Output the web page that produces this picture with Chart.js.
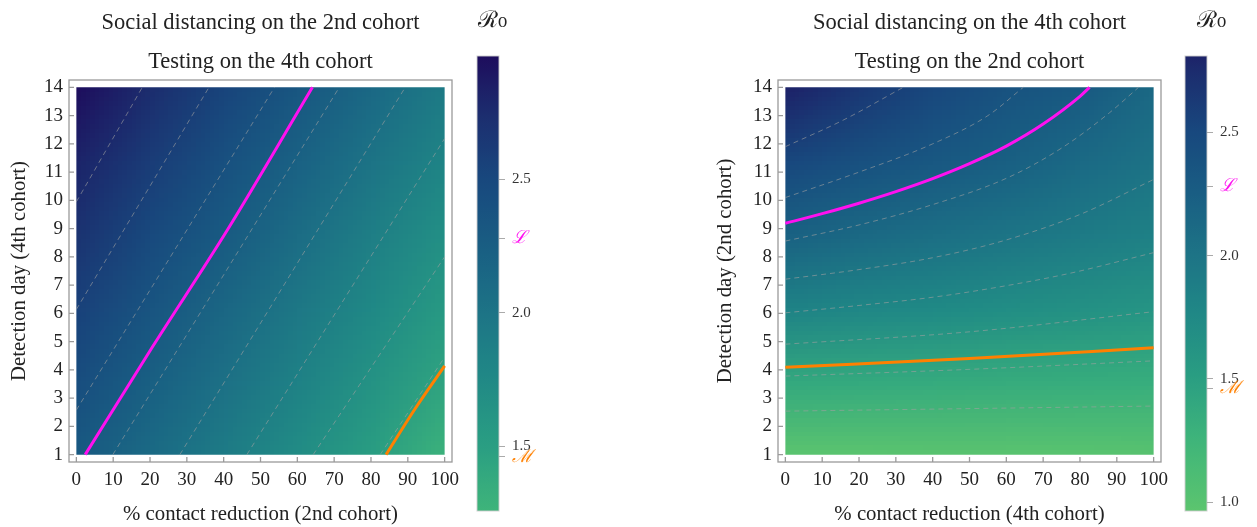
<!DOCTYPE html>
<html>
<head>
<meta charset="utf-8">
<script src="https://cdn.jsdelivr.net/npm/chart.js@4.4.1/dist/chart.umd.min.js"></script>
<style>
  body { margin: 0; background: #fff; }
  #wrap { position: relative; width: 1257px; height: 527px; overflow: hidden; }
  canvas { position: absolute; top: 0; }
</style>
</head>
<body>
<div id="wrap">
  <canvas id="leftPanel" width="470" height="527" style="left:0"></canvas>
  <canvas id="leftBar" width="110" height="527" style="left:440px"></canvas>
  <canvas id="rightPanel" width="480" height="527" style="left:700px"></canvas>
  <canvas id="rightBar" width="107" height="527" style="left:1150px"></canvas>
</div>
<script>
// axes
const xTicks = [0, 10, 20, 30, 40, 50, 60, 70, 80, 90, 100];
const yTicks = [1, 2, 3, 4, 5, 6, 7, 8, 9, 10, 11, 12, 13, 14];

// R0 read at grid points (rows follow gridY, bottom to top)
const gridX = [0, 20, 40, 60, 80, 100];
const gridY = [1, 3.6, 6.2, 8.8, 11.4, 14];
const leftR0 = [
  [2.30, 2.10, 1.90, 1.70, 1.50, 1.27],
  [2.43, 2.23, 2.03, 1.83, 1.63, 1.43],
  [2.55, 2.35, 2.15, 1.95, 1.75, 1.55],
  [2.68, 2.48, 2.28, 2.08, 1.87, 1.67],
  [2.80, 2.60, 2.40, 2.20, 2.00, 1.80],
  [2.95, 2.73, 2.53, 2.33, 2.12, 1.92]
];
const rightR0 = [
  [0.96, 0.965, 0.97, 0.975, 0.98, 0.99],
  [1.38, 1.37, 1.36, 1.35, 1.34, 1.33],
  [1.82, 1.77, 1.74, 1.69, 1.65, 1.61],
  [2.21, 2.13, 2.06, 1.99, 1.92, 1.84],
  [2.50, 2.40, 2.32, 2.23, 2.11, 2.01],
  [2.81, 2.64, 2.50, 2.38, 2.30, 2.13]
];

// threshold curves and level lines, [x, y] points
const leftL = [[2.4, 1], [20.6, 4.8], [41, 8.95], [64.1, 14]];
const leftM = [[84.1, 1], [91.8, 2.59], [100, 4.14]];
const leftContours = [
  [[0, 9.95], [17.9, 14]],
  [[0, 6.14], [36, 14]],
  [[0, 2.58], [53.8, 14]],
  [[9.9, 1], [71.4, 14]],
  [[28.1, 1], [89.3, 14]],
  [[46.3, 1], [100, 12.19]],
  [[64.3, 1], [100, 8.0]],
  [[82.5, 1], [100, 4.45]]
];
const rightL = [[0, 9.19], [10, 9.53], [20, 9.9], [30, 10.31], [40, 10.77], [50, 11.3],
                [60, 11.92], [70, 12.7], [80, 13.68], [82.6, 14]];
const rightM = [[0, 4.09], [50, 4.4], [100, 4.78]];
const rightContours = [
  [[0, 11.9], [15.7, 12.84], [32, 14]],
  [[0, 10.1], [20, 11.0], [40, 12.0], [55, 13.0], [64.6, 14]],
  [[0, 8.56], [20, 9.13], [40, 9.85], [60, 10.78], [75, 11.85], [88, 13.1], [95.9, 14]],
  [[0, 7.21], [20, 7.55], [40, 7.97], [60, 8.6], [80, 9.5], [100, 10.74]],
  [[0, 6.02], [20, 6.28], [41.1, 6.59], [60, 6.98], [77.3, 7.42], [100, 8.15]],
  [[0, 4.91], [50.2, 5.35], [100, 6.06]],
  [[0, 3.78], [50.2, 4.02], [100, 4.32]],
  [[0, 2.54], [100, 2.72]]
];

// colour bars
const levelL = 2.28;
const levelM = 1.46;
const leftBarRange = [1.257, 2.963];
const rightBarRange = [0.964, 2.81];
const leftBarTicks = [1.5, 2.0, 2.5];
const rightBarTicks = [1.0, 1.5, 2.0, 2.5];

// colour map (style)
const cmap = [
  [0.96, [92, 197, 110]],
  [1.25, [63, 181, 122]],
  [1.5, [42, 158, 130]],
  [1.75, [32, 137, 134]],
  [2.0, [29, 116, 134]],
  [2.25, [25, 94, 131]],
  [2.5, [24, 72, 126]],
  [2.75, [28, 44, 110]],
  [2.97, [30, 12, 92]]
];
const SERIF = '"Liberation Serif", "DejaVu Serif", serif';
const INK = '#222';
const PINK = '#ff10f0';
const ORANGE = '#ff8000';

function colorAt(v) {
  if (v <= cmap[0][0]) return cmap[0][1];
  for (let i = 1; i < cmap.length; i++) {
    if (v <= cmap[i][0]) {
      const [v0, c0] = cmap[i - 1], [v1, c1] = cmap[i];
      const f = (v - v0) / (v1 - v0);
      return c0.map((c, k) => Math.round(c + (c1[k] - c) * f));
    }
  }
  return cmap[cmap.length - 1][1];
}
const rgb = c => `rgb(${c[0]},${c[1]},${c[2]})`;

const heatPlugin = {
  id: 'heat',
  beforeDatasetsDraw(chart, args, opts) {
    const grid = opts.values;
    const xs = chart.scales.x, ys = chart.scales.y;
    const nx = gridX.length, ny = gridY.length;
    const off = document.createElement('canvas');
    off.width = nx; off.height = ny;
    const octx = off.getContext('2d');
    const img = octx.createImageData(nx, ny);
    for (let j = 0; j < ny; j++) {
      for (let i = 0; i < nx; i++) {
        const c = colorAt(grid[j][i]);
        const k = ((ny - 1 - j) * nx + i) * 4;
        img.data[k] = c[0]; img.data[k + 1] = c[1]; img.data[k + 2] = c[2]; img.data[k + 3] = 255;
      }
    }
    octx.putImageData(img, 0, 0);
    const dx = (gridX[nx - 1] - gridX[0]) / (nx - 1);
    const dy = (gridY[ny - 1] - gridY[0]) / (ny - 1);
    const x0 = xs.getPixelForValue(gridX[0] - dx / 2), x1 = xs.getPixelForValue(gridX[nx - 1] + dx / 2);
    const y0 = ys.getPixelForValue(gridY[ny - 1] + dy / 2), y1 = ys.getPixelForValue(gridY[0] - dy / 2);
    const cx0 = xs.getPixelForValue(gridX[0]), cx1 = xs.getPixelForValue(gridX[nx - 1]);
    const cy0 = ys.getPixelForValue(gridY[ny - 1]), cy1 = ys.getPixelForValue(gridY[0]);
    const ctx = chart.ctx;
    ctx.save();
    ctx.beginPath();
    ctx.rect(cx0, cy0, cx1 - cx0, cy1 - cy0);
    ctx.clip();
    ctx.imageSmoothingEnabled = true;
    ctx.drawImage(off, x0, y0, x1 - x0, y1 - y0);
    ctx.restore();
  }
};

const framePlugin = {
  id: 'frame',
  afterDraw(chart) {
    const { ctx, chartArea: a, scales: { x, y } } = chart;
    ctx.save();
    ctx.strokeStyle = '#9a9a9a';
    ctx.lineWidth = 1.3;
    ctx.strokeRect(a.left, a.top, a.right - a.left, a.bottom - a.top);
    ctx.beginPath();
    x.ticks.forEach(t => {
      const p = x.getPixelForValue(t.value);
      ctx.moveTo(p, a.bottom); ctx.lineTo(p, a.bottom - 5);
    });
    y.ticks.forEach(t => {
      const p = y.getPixelForValue(t.value);
      ctx.moveTo(a.left, p); ctx.lineTo(a.left + 5, p);
    });
    ctx.stroke();
    ctx.restore();
  }
};

const cbarPlugin = {
  id: 'cbar',
  beforeDraw(chart, args, opts) {
    const { ctx, chartArea: a, scales: { y } } = chart;
    const top = y.getPixelForValue(y.max), bot = y.getPixelForValue(y.min);
    const g = ctx.createLinearGradient(0, bot, 0, top);
    for (let k = 0; k <= 30; k++) {
      const f = k / 30;
      g.addColorStop(f, rgb(colorAt(y.min + (y.max - y.min) * f)));
    }
    ctx.save();
    ctx.fillStyle = g;
    ctx.fillRect(a.left, top, a.right - a.left, bot - top);
    ctx.strokeStyle = 'rgba(205,205,205,0.9)';
    ctx.lineWidth = 1;
    ctx.strokeRect(a.left, top, a.right - a.left, bot - top);
    ctx.fillStyle = INK;
    ctx.font = '23px "DejaVu Serif", serif';
    ctx.textBaseline = 'middle';
    ctx.textAlign = 'left';
    ctx.fillText('ℛ₀', a.left + opts.labelDx, 21);
    ctx.restore();
  }
};

function toPoints(arr) {
  return arr.map(p => ({ x: p[0], y: p[1] }));
}

function makePanel(id, cfg) {
  const datasets = cfg.contours.map(c => ({
    data: toPoints(c), showLine: true, borderColor: 'rgba(160,160,160,0.6)',
    borderWidth: 1, borderDash: [5, 4], pointRadius: 0, cubicInterpolationMode: 'monotone'
  }));
  datasets.push({ data: toPoints(cfg.L), showLine: true, borderColor: PINK, borderWidth: 3, pointRadius: 0, cubicInterpolationMode: 'monotone' });
  datasets.push({ data: toPoints(cfg.M), showLine: true, borderColor: ORANGE, borderWidth: 3, pointRadius: 0, cubicInterpolationMode: 'monotone' });

  new Chart(document.getElementById(id), {
    type: 'scatter',
    data: { datasets },
    options: {
      responsive: false,
      animation: false,
      events: [],
      layout: { padding: { left: 0, right: cfg.padRight, top: 0, bottom: 0 } },
      plugins: {
        legend: { display: false },
        tooltip: { enabled: false },
        title: {
          display: true, text: cfg.title1, fullSize: false, color: INK,
          font: { family: SERIF, size: 22.5, weight: 'normal', lineHeight: 1.2 },
          padding: { top: 10, bottom: 12 }
        },
        subtitle: {
          display: true, text: cfg.title2, fullSize: false, color: INK,
          font: { family: SERIF, size: 22.5, weight: 'normal', lineHeight: 1.2 },
          padding: { top: 0, bottom: 4 }
        },
        heat: { values: cfg.values }
      },
      scales: {
        x: {
          type: 'linear', min: -2, max: 102,
          afterBuildTicks: s => { s.ticks = xTicks.map(v => ({ value: v })); },
          afterFit: s => { s.height = 65; },
          grid: { display: false, drawTicks: false },
          border: { display: false },
          ticks: { autoSkip: false, maxRotation: 0, padding: 7, color: INK, font: { family: SERIF, size: 19 } },
          title: { display: true, text: cfg.xTitle, color: INK, font: { family: SERIF, size: 20.8 }, padding: { top: 0, bottom: 0 } }
        },
        y: {
          type: 'linear', min: 0.74, max: 14.26,
          afterBuildTicks: s => { s.ticks = yTicks.map(v => ({ value: v })); },
          afterFit: s => { s.width = cfg.yWidth; },
          grid: { display: false, drawTicks: false },
          border: { display: false },
          ticks: { autoSkip: false, padding: 6, color: INK, font: { family: SERIF, size: 19 } },
          title: { display: true, text: cfg.yTitle, color: INK, font: { family: SERIF, size: 20.8 }, padding: { top: cfg.yTitlePad, bottom: 0 } }
        }
      }
    },
    plugins: [heatPlugin, framePlugin]
  });
}

function makeBar(id, cfg) {
  new Chart(document.getElementById(id), {
    type: 'scatter',
    data: { datasets: [] },
    options: {
      responsive: false,
      animation: false,
      events: [],
      layout: { padding: { left: cfg.padLeft, right: 0, top: 56, bottom: 14 } },
      plugins: {
        legend: { display: false },
        tooltip: { enabled: false },
        cbar: { labelDx: cfg.labelDx }
      },
      scales: {
        x: { display: false },
        y: {
          type: 'linear', position: 'right', min: cfg.range[0], max: cfg.range[1],
          afterBuildTicks: s => { s.ticks = cfg.ticks.concat([levelL, levelM]).map(v => ({ value: v })); },
          afterFit: s => { s.width = cfg.axisWidth; },
          grid: { drawOnChartArea: false, drawTicks: true, tickLength: 6, color: '#aaa' },
          border: { display: false },
          ticks: {
            autoSkip: false,
            padding: 7,
            callback: v => v === levelL ? 'ℒ' : v === levelM ? 'ℳ' : v.toFixed(1),
            color: c => c.tick && c.tick.value === levelL ? PINK : c.tick && c.tick.value === levelM ? ORANGE : '#333',
            font: c => (c.tick && (c.tick.value === levelL || c.tick.value === levelM))
              ? { family: '"DejaVu Serif", serif', size: 18, style: 'italic' }
              : { family: SERIF, size: 15 }
          }
        }
      }
    },
    plugins: [cbarPlugin]
  });
}

makePanel('leftPanel', {
  title1: 'Social distancing on the 2nd cohort',
  title2: 'Testing on the 4th cohort',
  xTitle: '% contact reduction (2nd cohort)',
  yTitle: 'Detection day (4th cohort)',
  values: leftR0, contours: leftContours, L: leftL, M: leftM,
  padRight: 18, yWidth: 69, yTitlePad: 7
});
makePanel('rightPanel', {
  title1: 'Social distancing on the 4th cohort',
  title2: 'Testing on the 2nd cohort',
  xTitle: '% contact reduction (4th cohort)',
  yTitle: 'Detection day (2nd cohort)',
  values: rightR0, contours: rightContours, L: rightL, M: rightM,
  padRight: 19, yWidth: 78, yTitlePad: 13
});
makeBar('leftBar', { range: leftBarRange, ticks: leftBarTicks, padLeft: 37, axisWidth: 51, labelDx: 1 });
makeBar('rightBar', { range: rightBarRange, ticks: rightBarTicks, padLeft: 35, axisWidth: 50, labelDx: 12 });
</script>
</body>
</html>
